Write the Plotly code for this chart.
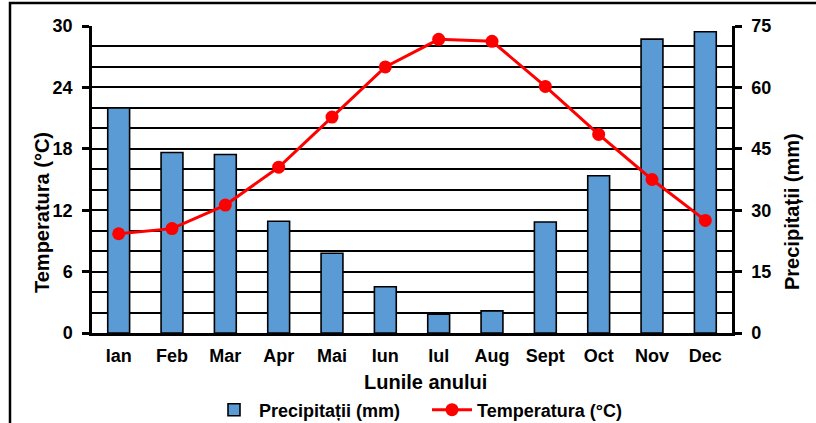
import plotly.graph_objects as go

months = ["Ian", "Feb", "Mar", "Apr", "Mai", "Iun", "Iul", "Aug", "Sept", "Oct", "Nov", "Dec"]
precip_mm = [55.0, 44.1, 43.6, 27.3, 19.5, 11.3, 4.6, 5.4, 27.1, 38.4, 71.8, 73.6]
temp_c = [9.7, 10.2, 12.5, 16.2, 21.1, 26.0, 28.7, 28.5, 24.1, 19.4, 15.0, 11.0]
temp_ticks = [0, 6, 12, 18, 24, 30]
precip_ticks = [0, 15, 30, 45, 60, 75]

FONT = "Liberation Sans"
L, R, T, B = 92, 84, 26, 90
W, H = 816, 423
PW, PH = W - L - R, H - T - B

fig = go.Figure()
fig.add_trace(go.Bar(
    x=months, y=precip_mm, name="<b>Precipitații (mm)</b>",
    marker=dict(color="#5B9BD5", line=dict(color="black", width=1.6)),
    width=0.41, yaxis="y",
))
fig.add_trace(go.Scatter(
    x=months, y=temp_c, name="<b>Temperatura (°C)</b>", mode="lines+markers",
    line=dict(color="#FF0000", width=3), marker=dict(color="#FF0000", size=13),
    yaxis="y2",
))

fig.update_layout(
    width=W, height=H,
    margin=dict(l=L, r=R, t=T, b=B, autoexpand=False),
    paper_bgcolor="white", plot_bgcolor="white",
    font=dict(family=FONT, color="black", size=18),
    showlegend=True,
    legend=dict(orientation="h", x=(209 - L) / PW, xanchor="left",
                y=-(410 - (T + PH)) / PH, yanchor="middle",
                itemwidth=40, entrywidth=163, tracegroupgap=0,
                font=dict(size=18, family=FONT, color="black")),
    xaxis=dict(
        range=[-0.5, len(months) - 0.5],
        showline=True, linecolor="black", linewidth=2.5, ticks="",
        tickfont=dict(size=18, family=FONT), ticklabelstandoff=5,
        tickvals=months, ticktext=["<b>%s</b>" % m for m in months],
        showgrid=False, automargin=False,
    ),
    yaxis=dict(
        side="right", range=[0, 75], tickvals=precip_ticks,
        ticktext=["<b>%d</b>" % v for v in precip_ticks],
        showline=True, linecolor="black", linewidth=2.5,
        ticks="outside", ticklen=7, tickwidth=2.5, tickcolor="black",
        ticklabelstandoff=6,
        showgrid=True, gridcolor="black", gridwidth=2.4,
        minor=dict(dtick=5, tick0=0, showgrid=True, gridcolor="black", gridwidth=1.6, ticks=""),
        tickfont=dict(size=18, family=FONT),
        zeroline=False, automargin=False,
    ),
    yaxis2=dict(
        side="left", overlaying="y", range=[0, 30], tickvals=temp_ticks,
        ticktext=["<b>%d</b>" % v for v in temp_ticks],
        showline=True, linecolor="black", linewidth=2.5,
        ticks="outside", ticklen=7, tickwidth=2.5, tickcolor="black",
        ticklabelstandoff=6,
        showgrid=False, zeroline=False,
        tickfont=dict(size=18, family=FONT), automargin=False,
    ),
)

# axis titles
fig.add_annotation(text="<b>Lunile anului</b>", xref="paper", yref="paper",
                   x=(425 - L) / PW, y=-(382 - (T + PH)) / PH, xanchor="center", yanchor="middle",
                   showarrow=False, font=dict(size=20, family=FONT, color="black"))
fig.add_annotation(text="<b>Temperatura (°C)</b>", xref="paper", yref="paper",
                   x=(42 - L) / PW, y=((T + PH) - 213) / PH, xanchor="center", yanchor="middle",
                   textangle=-90, showarrow=False, font=dict(size=20, family=FONT, color="black"))
fig.add_annotation(text="<b>Precipitații (mm)</b>", xref="paper", yref="paper",
                   x=(792 - L) / PW, y=((T + PH) - 212) / PH, xanchor="center", yanchor="middle",
                   textangle=-90, showarrow=False, font=dict(size=20, family=FONT, color="black"))

# outer frame (cut off on right and bottom as in the reference)
fig.add_shape(type="rect", xref="paper", yref="paper",
              x0=(10 - L) / PW, x1=1.3, y0=-0.5, y1=1 + (T - 3) / PH,
              line=dict(color="black", width=2.5), fillcolor="rgba(0,0,0,0)", layer="below")

fig.write_html("out.html", config={"displayModeBar": False},
               post_script="document.body.style.margin='0';document.body.style.padding='0';")
